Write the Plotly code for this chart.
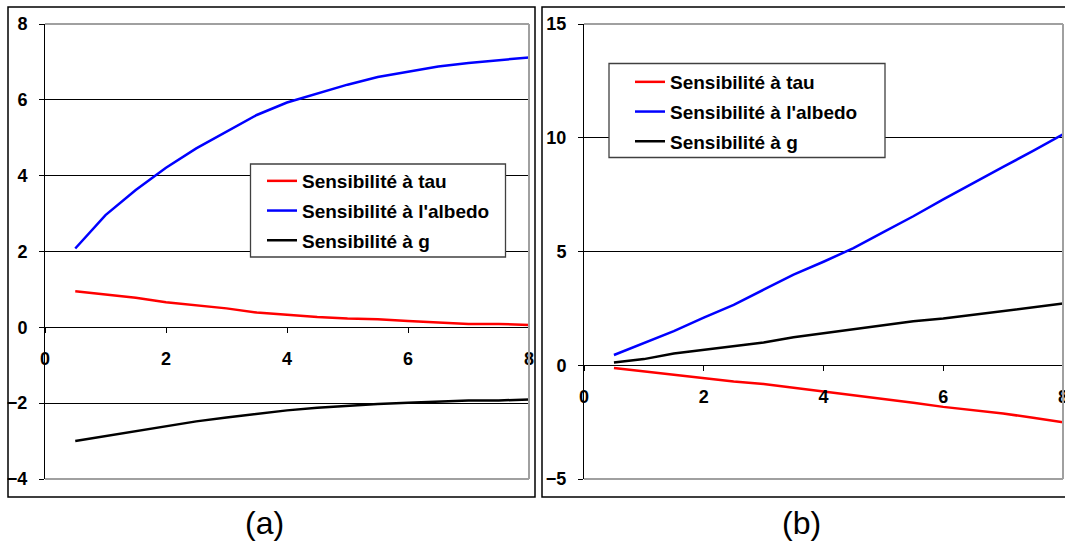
import plotly.graph_objects as go

# ---------------- data ----------------
x_vals = [0.5, 1.0, 1.5, 2.0, 2.5, 3.0, 3.5, 4.0, 4.5, 5.0, 5.5, 6.0, 6.5, 7.0, 7.5, 8.0]

# panel (a)
a_tau = [0.95, 0.87, 0.78, 0.66, 0.57, 0.50, 0.39, 0.33, 0.27, 0.23, 0.21, 0.17, 0.13, 0.09, 0.09, 0.06]
a_albedo = [2.08, 2.96, 3.62, 4.21, 4.72, 5.16, 5.60, 5.93, 6.17, 6.40, 6.60, 6.74, 6.88, 6.97, 7.04, 7.12]
a_g = [-3.00, -2.87, -2.74, -2.61, -2.48, -2.38, -2.28, -2.19, -2.12, -2.07, -2.02, -1.99, -1.96, -1.93, -1.93, -1.90]

# panel (b)
b_tau = [-0.12, -0.27, -0.39, -0.55, -0.71, -0.82, -0.98, -1.17, -1.32, -1.48, -1.65, -1.83, -1.98, -2.12, -2.31, -2.51]
b_albedo = [0.45, 0.98, 1.50, 2.09, 2.65, 3.32, 3.98, 4.55, 5.15, 5.85, 6.55, 7.29, 8.02, 8.72, 9.42, 10.15]
b_g = [0.12, 0.27, 0.52, 0.68, 0.87, 1.00, 1.23, 1.40, 1.58, 1.75, 1.93, 2.06, 2.23, 2.40, 2.55, 2.71]

series_names = ["Sensibilité à tau", "Sensibilité à l'albedo", "Sensibilité à g"]
series_colors = ["#FF0000", "#0000FF", "#000000"]

x_ticks = [0, 2, 4, 6, 8]
a_yticks = [-4, -2, 0, 2, 4, 6, 8]
b_yticks = [-5, 0, 5, 10, 15]
panel_labels = ["(a)", "(b)"]

# ---------------- layout geometry ----------------
W, H = 1065, 543
def px_x(p):
    return p / W
def px_y(p):
    return 1 - p / H

a_xdom = [px_x(45), px_x(529)]
b_xdom = [px_x(584), px_x(1063)]
ydom = [px_y(479), px_y(24)]
a_yrange = [-4, 8]
b_yrange = [-5, 15]

def zero_pos(rng):
    return ydom[0] + (0 - rng[0]) / (rng[1] - rng[0]) * (ydom[1] - ydom[0])

FONT = "Liberation Sans, Arial, sans-serif"
tickfont = dict(family=FONT, size=18, color="black", weight="bold")

fig = go.Figure()

for vals, name, col in zip([a_tau, a_albedo, a_g], series_names, series_colors):
    fig.add_trace(go.Scatter(x=x_vals, y=vals, mode="lines", name=name,
                             line=dict(color=col, width=2.5),
                             xaxis="x", yaxis="y", legend="legend",
                             legendgroup="a" + name))
for vals, name, col in zip([b_tau, b_albedo, b_g], series_names, series_colors):
    fig.add_trace(go.Scatter(x=x_vals, y=vals, mode="lines", name=name,
                             line=dict(color=col, width=2.5),
                             xaxis="x2", yaxis="y2", legend="legend2",
                             legendgroup="b" + name))

def xaxis_cfg(dom, pos):
    return dict(domain=dom, range=[0, 8], tickvals=x_ticks, showgrid=False,
                zeroline=False, showline=True, linecolor="black", linewidth=1,
                ticks="outside", ticklen=5, tickcolor="black", tickwidth=1,
                tickfont=tickfont, anchor="free", position=pos,
                ticklabelstandoff=10, ticklabeloverflow="allow",
                automargin=False, fixedrange=True)

def yaxis_cfg(rng, ticks, anchor_x):
    return dict(domain=ydom, range=rng, tickvals=ticks, showgrid=True,
                gridcolor="black", gridwidth=1, zeroline=False,
                showline=True, linecolor="black", linewidth=1,
                ticks="outside", ticklen=5, tickcolor="black", tickwidth=1,
                tickfont=tickfont, anchor=anchor_x, ticklabelstandoff=8,
                ticklabeloverflow="allow", automargin=False, fixedrange=True)

legend_font = dict(family=FONT, size=19, color="black", weight="bold")

fig.update_layout(
    template="none",
    width=W, height=H, autosize=False,
    margin=dict(l=0, r=0, t=0, b=0, autoexpand=False),
    paper_bgcolor="white", plot_bgcolor="white",
    showlegend=True,
    xaxis=xaxis_cfg(a_xdom, zero_pos(a_yrange)),
    yaxis=yaxis_cfg(a_yrange, a_yticks, "x"),
    xaxis2=xaxis_cfg(b_xdom, zero_pos(b_yrange)),
    yaxis2=yaxis_cfg(b_yrange, b_yticks, "x2"),
    legend=dict(x=px_x(262), y=px_y(162), xanchor="left", yanchor="top",
                bgcolor="rgba(0,0,0,0)", borderwidth=0, font=legend_font,
                traceorder="grouped", tracegroupgap=2, itemwidth=30),
    legend2=dict(x=px_x(630), y=px_y(63), xanchor="left", yanchor="top",
                 bgcolor="rgba(0,0,0,0)", borderwidth=0, font=legend_font,
                 traceorder="grouped", tracegroupgap=2, itemwidth=30),
)

shapes = []
# outer frames
shapes.append(dict(type="rect", xref="paper", yref="paper",
                   x0=px_x(8), x1=px_x(535), y0=px_y(497), y1=px_y(7),
                   line=dict(color="black", width=1.5), layer="below"))
shapes.append(dict(type="rect", xref="paper", yref="paper",
                   x0=px_x(542), x1=px_x(1075), y0=px_y(497), y1=px_y(7),
                   line=dict(color="black", width=1.5), layer="below"))
# grey plot-area borders (top, right, bottom)
for xd, yd in [(a_xdom, ydom), (b_xdom, ydom)]:
    for (x0, y0, x1, y1) in [(xd[0], yd[1], xd[1], yd[1]),
                             (xd[1], yd[0], xd[1], yd[1]),
                             (xd[0], yd[0], xd[1], yd[0])]:
        shapes.append(dict(type="line", xref="paper", yref="paper",
                           x0=x0, y0=y0, x1=x1, y1=y1,
                           line=dict(color="#A0A0A0", width=2), layer="above"))
# legend boxes
shapes.append(dict(type="rect", xref="paper", yref="paper",
                   x0=px_x(250.5), x1=px_x(505.5), y0=px_y(257), y1=px_y(164),
                   line=dict(color="#404040", width=1.3), fillcolor="white",
                   layer="above"))
shapes.append(dict(type="rect", xref="paper", yref="paper",
                   x0=px_x(609), x1=px_x(885), y0=px_y(157.5), y1=px_y(63.5),
                   line=dict(color="#404040", width=1.3), fillcolor="white",
                   layer="above"))
fig.update_layout(shapes=shapes)

for label, cx in zip(panel_labels, [264, 801]):
    fig.add_annotation(text=label, xref="paper", yref="paper",
                       x=px_x(cx), y=px_y(523), xanchor="center",
                       yanchor="middle", showarrow=False,
                       font=dict(family=FONT, size=32, color="black"))

fig.write_html("out.html",
               config={"displayModeBar": False},
               post_script="document.body.style.margin='0';document.body.style.overflow='hidden';")
